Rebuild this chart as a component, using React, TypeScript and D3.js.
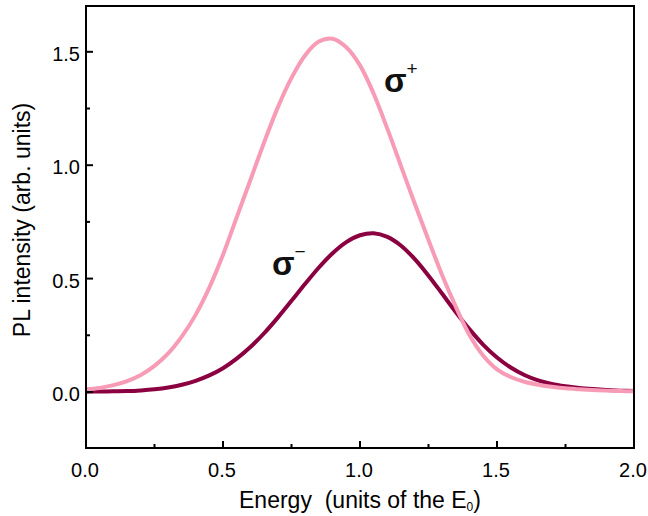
import React from 'react';
import * as d3 from 'd3';

// energy grid (units of E0)
const energy = [
  0.0, 0.05, 0.1, 0.15, 0.2, 0.25, 0.3, 0.35, 0.4, 0.45, 0.5, 0.55, 0.6, 0.65,
  0.7, 0.75, 0.8, 0.85, 0.9, 0.95, 1.0, 1.05, 1.1, 1.15, 1.2, 1.25, 1.3, 1.35,
  1.4, 1.45, 1.5, 1.55, 1.6, 1.65, 1.7, 1.75, 1.8, 1.85, 1.9, 1.95, 2.0,
];

// sigma+ (pink)
const sigmaPlus = [
  0.012, 0.018, 0.03, 0.048, 0.075, 0.115, 0.17, 0.245, 0.34, 0.46, 0.605,
  0.77, 0.935, 1.1, 1.255, 1.385, 1.485, 1.545, 1.558, 1.52, 1.44, 1.315,
  1.16, 0.995, 0.83, 0.67, 0.515, 0.375, 0.25, 0.16, 0.1, 0.066, 0.045, 0.032,
  0.023, 0.016, 0.012, 0.009, 0.006, 0.004, 0.003,
];

// sigma- (dark)
const sigmaMinus = [
  0.001, 0.002, 0.003, 0.004, 0.007, 0.012, 0.02, 0.032, 0.049, 0.073, 0.105,
  0.147, 0.198, 0.259, 0.328, 0.402, 0.477, 0.549, 0.612, 0.661, 0.691, 0.7,
  0.684, 0.645, 0.586, 0.513, 0.433, 0.352, 0.276, 0.208, 0.152, 0.108, 0.075,
  0.051, 0.035, 0.025, 0.018, 0.013, 0.009, 0.006, 0.004,
];

const xMajor = [0, 0.5, 1.0, 1.5, 2.0];
const xMinor = [0.25, 0.75, 1.25, 1.75];
const yMajor = [0, 0.5, 1.0, 1.5];
const yMinor = [0.25, 0.75, 1.25];

const W = 648;
const H = 516;
const left = 86;
const right = 634;
const top = 6;
const bottom = 448;
const font = 'Liberation Sans, Arial, sans-serif';

export default function App() {
  const x = d3.scaleLinear().domain([0, 2]).range([left, right]);
  const y = d3.scaleLinear().domain([-0.247, 1.702]).range([bottom, top]);

  const line = d3
    .line<number>()
    .x((_, i) => x(energy[i]))
    .y((d) => y(d))
    .curve(d3.curveCatmullRom);

  const fmt = d3.format('.1f');

  return (
    <svg
      width={W}
      height={H}
      style={{ position: 'absolute', left: 0, top: 0, background: '#fff' }}
      fontFamily={font}
    >
      <path d={line(sigmaMinus) ?? ''} fill="none" stroke="#8b0040" strokeWidth={4} />
      <path d={line(sigmaPlus) ?? ''} fill="none" stroke="#f79bb7" strokeWidth={4} />

      <rect
        x={left}
        y={top}
        width={right - left}
        height={bottom - top}
        fill="none"
        stroke="#000"
        strokeWidth={2}
      />

      {xMajor.map((v) => (
        <g key={'xM' + v}>
          <line x1={x(v)} x2={x(v)} y1={bottom} y2={bottom - 7} stroke="#000" strokeWidth={2} />
          <text x={x(v) - 1} y={477} textAnchor="middle" fontSize={20}>
            {fmt(v)}
          </text>
        </g>
      ))}
      {xMinor.map((v) => (
        <line key={'xm' + v} x1={x(v)} x2={x(v)} y1={bottom} y2={bottom - 4} stroke="#000" strokeWidth={2} />
      ))}
      {yMajor.map((v) => (
        <g key={'yM' + v}>
          <line x1={left} x2={left + 7} y1={y(v)} y2={y(v)} stroke="#000" strokeWidth={2} />
          <text x={80} y={y(v) + 9} textAnchor="end" fontSize={20}>
            {fmt(v)}
          </text>
        </g>
      ))}
      {yMinor.map((v) => (
        <line key={'ym' + v} x1={left} x2={left + 4} y1={y(v)} y2={y(v)} stroke="#000" strokeWidth={2} />
      ))}

      <text
        transform={`translate(30,220) rotate(-90)`}
        textAnchor="middle"
        fontSize={23}
      >
        PL intensity (arb. units)
      </text>
      <text x={(left + right) / 2} y={508} textAnchor="middle" fontSize={23}>
        Energy{'\u00a0\u00a0'}(units of the E
        <tspan fontSize={12} dy={3}>0</tspan>
        <tspan dy={-3}>)</tspan>
      </text>

      <text x={384} y={92} fontSize={33} fontWeight="bold" fill="#111">
        σ<tspan fontSize={19} dy={-17} fontWeight="normal">+</tspan>
      </text>
      <text x={272} y={275} fontSize={33} fontWeight="bold" fill="#111">
        σ<tspan fontSize={19} dy={-17} fontWeight="normal">−</tspan>
      </text>
    </svg>
  );
}
